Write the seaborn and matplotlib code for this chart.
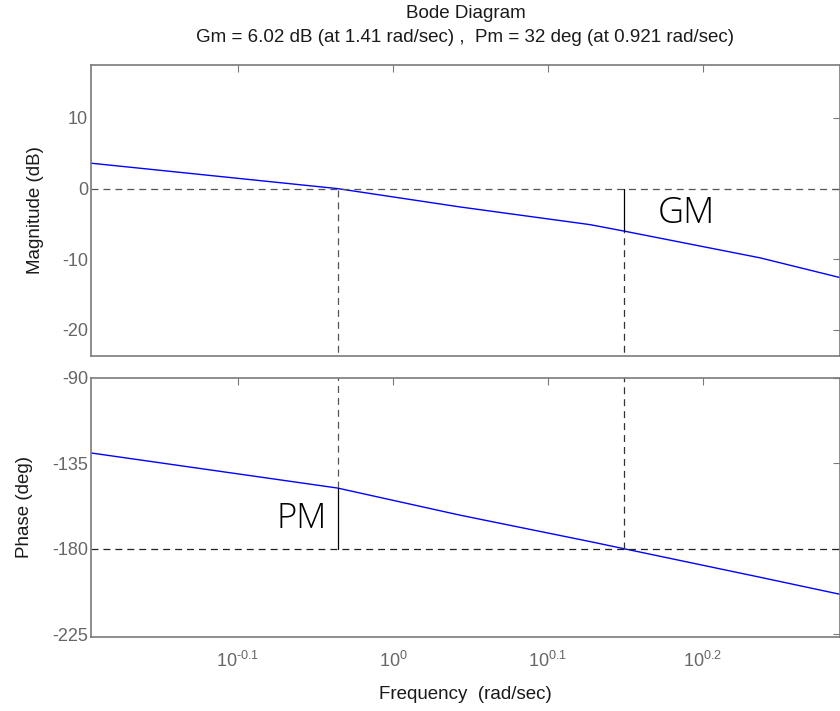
import numpy as np
import pandas as pd
import matplotlib
matplotlib.use("Agg")
import matplotlib.pyplot as plt
from matplotlib.ticker import FixedLocator, FixedFormatter, NullLocator
import seaborn as sns

# Frequency response samples
freq = [0.6385, 0.921, 1.105, 1.34, 1.41, 1.725, 1.943]          # rad/sec
magnitude = [3.6, 0.0, -2.6, -5.1, -6.02, -9.8, -12.6]           # dB
phase = [-129.5, -148.0, -162.3, -176.2, -180.0, -195.0, -204.0]  # deg

# Stability margins
gm_db = 6.02
gm_freq = 1.41
pm_deg = 32
pm_freq = 0.921

# Axis ticks
xtick_exps = [-0.1, 0.0, 0.1, 0.2]
xtick_labels = ["$10^{\u20100.1}$", r"$10^{0}$", r"$10^{0.1}$", r"$10^{0.2}$"]
mag_ticks = [10, 0, -10, -20]
phase_ticks = [-90, -135, -180, -225]

df = pd.DataFrame({"freq": freq, "mag": magnitude, "phase": phase})

sns.set_theme(style="white")
plt.rcParams["font.family"] = ["Liberation Sans", "DejaVu Sans"]
plt.rcParams["mathtext.default"] = "regular"
plt.rcParams["lines.scale_dashes"] = False

W, H = 840, 711
fig = plt.figure(figsize=(W / 100, H / 100), dpi=100)

left = 91 / W
width = 749 / W
ax_mag = fig.add_axes([left, (H - 356) / H, width, 291 / H])
ax_ph = fig.add_axes([left, (H - 637) / H, width, 259 / H])

spine_c = "#7a7a7a"
tick_c = "#666666"
label_c = "#1a1a1a"
dash = (0, (5, 3.6))
xlo, xhi = 10 ** -0.1948, 10 ** 0.2884

for ax in (ax_mag, ax_ph):
    ax.set_xscale("log")
    ax.set_xlim(xlo, xhi)
    ax.xaxis.set_major_locator(FixedLocator([10 ** e for e in xtick_exps]))
    ax.xaxis.set_minor_locator(NullLocator())
    for s in ax.spines.values():
        s.set_color(spine_c)
        s.set_linewidth(1.2)
    ax.tick_params(direction="in", top=True, right=True, length=5,
                   width=0.8, color=spine_c, labelcolor=tick_c,
                   labelsize=13, pad=2)
    ax.grid(False)

# Magnitude panel
sns.lineplot(data=df, x="freq", y="mag", ax=ax_mag, color="#0000ff",
             lw=1.0, sort=False, estimator=None)
ax_mag.set_ylim(-23.7, 17.5)
ax_mag.set_yticks(mag_ticks)
ax_mag.set_yticklabels([str(t) for t in mag_ticks])
ax_mag.xaxis.set_major_formatter(FixedFormatter([""] * len(xtick_exps)))
ax_mag.set_xlabel("")
ax_mag.set_ylabel("Magnitude (dB)", fontsize=13.5, color=label_c)
ax_mag.yaxis.set_label_coords(-0.063, 0.5)

ax_mag.axhline(0, color="#555555", lw=0.9, ls=dash)
ax_mag.plot([pm_freq, pm_freq], [-30, 0], color="#555555", lw=0.9, ls=dash)
ax_mag.plot([gm_freq, gm_freq], [-30, -gm_db], color="#333333", lw=0.9, ls=dash)
ax_mag.plot([gm_freq, gm_freq], [-gm_db, 0], color="black", lw=0.9)
ax_mag.text(1.546, -3.55, "GM", fontsize=26, family="Open Sans", weight=300,
            va="center", ha="center", color="black")

# Phase panel
sns.lineplot(data=df, x="freq", y="phase", ax=ax_ph, color="#0000ff",
             lw=1.0, sort=False, estimator=None)
ax_ph.set_ylim(-226.5, -90)
ax_ph.set_yticks(phase_ticks)
ax_ph.set_yticklabels([str(t) for t in phase_ticks])
ax_ph.xaxis.set_major_formatter(FixedFormatter(xtick_labels))
ax_ph.tick_params(axis="x", labelsize=13, pad=10)
ax_ph.set_xlabel("Frequency  (rad/sec)", fontsize=13.5, color=label_c, labelpad=11)
ax_ph.set_ylabel("Phase (deg)", fontsize=13.5, color=label_c)
ax_ph.yaxis.set_label_coords(-0.077, 0.5)

ax_ph.axhline(-180, color="#222222", lw=0.9, ls=dash)
ax_ph.plot([gm_freq, gm_freq], [-180, -80], color="#333333", lw=0.9, ls=dash)
ax_ph.plot([pm_freq, pm_freq], [-180 + pm_deg, -80], color="#555555", lw=0.9, ls=dash)
ax_ph.plot([pm_freq, pm_freq], [-180, -180 + pm_deg], color="black", lw=0.9)
ax_ph.text(0.8736, -164.1, "PM", fontsize=25, family="Open Sans", weight=300,
           va="center", ha="center", color="black")

# Title block
cx = left + width / 2
fig.text(cx, 1 - 13.5 / H, "Bode Diagram", ha="center", va="center",
         fontsize=13.5, color=label_c)
fig.text(cx, 1 - 37.5 / H,
         "Gm = 6.02 dB (at 1.41 rad/sec) ,  Pm = 32 deg (at 0.921 rad/sec)",
         ha="center", va="center", fontsize=13.5, color=label_c)

fig.savefig("out.png", dpi=100)
